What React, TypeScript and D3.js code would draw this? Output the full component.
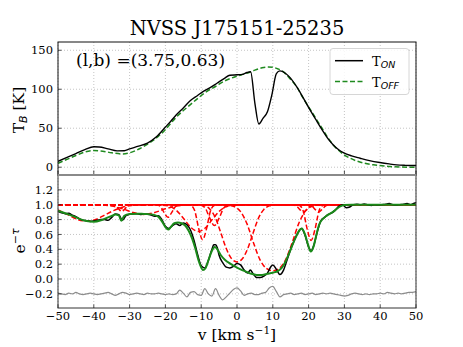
import React from "react";
import * as d3 from "d3";

// ---- data ----
const xTicks = [-50, -40, -30, -20, -10, 0, 10, 20, 30, 40, 50];
const tbTicks = [0, 50, 100, 150];
const tauTicks = [-0.2, 0, 0.2, 0.4, 0.6, 0.8, 1.0, 1.2];

// brightness temperature on / off source [v, K]
const tOn: [number, number][] = [
  [-50, 7.5], [-47, 13.5], [-45, 17.5], [-42.5, 22.5], [-40, 26.2], [-38.5, 26], [-36, 23.5],
  [-33.5, 21], [-31.5, 21.2], [-30, 23.5], [-27.5, 27], [-25, 31], [-22.5, 39], [-20, 51.5],
  [-18.5, 59], [-17, 67], [-15, 76], [-13, 85.5], [-11, 92], [-9.5, 97], [-7.5, 102],
  [-5.5, 108], [-3.5, 114], [-2, 118], [0, 118.5], [1.5, 119], [2.8, 121.5], [3.8, 122.5],
  [5, 82], [6.1, 55.5], [7.3, 63], [8.5, 71], [9.7, 92], [11, 120], [12, 123.5], [13.5, 120.5],
  [14.5, 116.5], [16.7, 103], [18.5, 89], [20.4, 73.5], [22.3, 59], [24.1, 45.7], [25.5, 36],
  [26.9, 28.6], [28.5, 22], [29.7, 18.7], [32, 14.5], [34.4, 11.5], [37, 8.5], [39.9, 6],
  [42.5, 4.2], [44.6, 3], [47, 2.4], [50, 2.1],
];
const tOff: [number, number][] = [
  [-50, 5], [-47, 11], [-45, 15], [-42.5, 19.5], [-40, 21.3], [-37.5, 20.5], [-35, 18.5],
  [-32, 17], [-30, 18.5], [-27.1, 24], [-24.3, 31.6], [-22, 39.5], [-20.1, 47.8], [-17, 64],
  [-13.1, 80], [-10.5, 90], [-8.5, 97], [-6, 103.5], [-3.8, 109.8], [-0.5, 116], [2.7, 120.5],
  [5, 124.5], [7, 127.5], [8.7, 128.5], [10.1, 128], [11.5, 126], [12.9, 122.6], [14.5, 115],
  [16.7, 103], [18.5, 88.5], [20.4, 74.5], [22.3, 60.5], [24.1, 47.5], [25.5, 37], [26.9, 28.6],
  [28.3, 22], [29.7, 16.6], [31.5, 11.8], [33.4, 8], [35.7, 5], [38.1, 3], [40.5, 1.8],
  [42.7, 0.8], [46, 0.2], [50, 0],
];

// observed absorption e^-tau
const absObs: [number, number][] = [
  [-50, 0.91], [-49, 0.89], [-48, 0.88], [-47, 0.885], [-46, 0.86], [-45, 0.84], [-44, 0.81],
  [-43, 0.79], [-42, 0.785], [-41, 0.775], [-40, 0.78], [-39, 0.79], [-38, 0.8], [-37, 0.8],
  [-36, 0.79], [-35, 0.83], [-34, 0.875], [-33, 0.865], [-32, 0.79], [-31, 0.855], [-30, 0.87],
  [-29, 0.875], [-28, 0.88], [-27, 0.87], [-26, 0.875], [-25, 0.87], [-24, 0.86], [-23, 0.845],
  [-22, 0.85], [-21, 0.8], [-20, 0.71], [-19, 0.68], [-18, 0.72], [-17, 0.745], [-16, 0.72],
  [-15, 0.755], [-14, 0.73], [-13, 0.66], [-12, 0.52], [-11, 0.33], [-10, 0.18], [-9, 0.15],
  [-8, 0.25], [-7, 0.4], [-6.5, 0.46], [-6, 0.46], [-5.5, 0.42], [-5, 0.32], [-4, 0.22],
  [-3, 0.16], [-2, 0.15], [-1, 0.17], [0, 0.21], [1, 0.19], [2, 0.12], [3, 0.08], [3.7, 0.12],
  [4.5, 0.07], [5.5, 0.02], [6.5, 0.02], [7.5, 0.04], [8.5, 0.08], [9.5, 0.17], [10, 0.19],
  [11, 0.13], [12, 0.06], [13, 0.12], [14, 0.26], [15, 0.4], [16, 0.52], [17, 0.62], [18, 0.68],
  [19, 0.59], [20, 0.43], [20.7, 0.38], [21.5, 0.46], [22.5, 0.65], [23.5, 0.79], [24.5, 0.83],
  [25.5, 0.87], [26.5, 0.89], [27.5, 0.93], [28.5, 0.98], [29.5, 1.0], [30.5, 0.96], [31.5, 0.97],
  [32.5, 1.0], [33.5, 1.005], [34.5, 1.0], [35.5, 1.01], [36.5, 1.0], [37.5, 0.99], [38.5, 1.0],
  [39.5, 0.995], [40.5, 1.0], [41.5, 1.005], [42.5, 1.015], [43.5, 1.0], [44.5, 0.995],
  [45.5, 1.0], [46.5, 1.005], [47.5, 1.015], [48.5, 1.0], [49.5, 1.02], [50, 1.025],
];

// total fit
const absFit: [number, number][] = [
  [-50, 0.92], [-48, 0.885], [-46, 0.85], [-44, 0.81], [-42, 0.78], [-40, 0.77], [-38, 0.79],
  [-36.5, 0.82], [-35, 0.85], [-34, 0.87], [-33, 0.855], [-32.3, 0.785], [-31.5, 0.85],
  [-30, 0.875], [-28, 0.88], [-26, 0.875], [-24, 0.87], [-23, 0.86], [-22, 0.84], [-21, 0.78],
  [-20, 0.7], [-19.2, 0.665], [-18.5, 0.7], [-17.5, 0.75], [-16.5, 0.76], [-15.5, 0.75],
  [-14.5, 0.72], [-13.5, 0.65], [-12.5, 0.54], [-11.7, 0.42], [-10.8, 0.26], [-10.3, 0.19],
  [-9.5, 0.12], [-8.8, 0.145], [-8, 0.25], [-7.1, 0.37], [-6.2, 0.43], [-5.5, 0.4], [-4.5, 0.32],
  [-3.4, 0.26], [-2, 0.21], [-0.6, 0.17], [1, 0.13], [2.5, 0.1], [4, 0.07], [5.5, 0.055],
  [7, 0.055], [8.5, 0.07], [10, 0.085], [11.5, 0.11], [12.5, 0.15], [13.5, 0.23], [14.5, 0.34],
  [15.5, 0.46], [16.5, 0.57], [17.5, 0.66], [18.1, 0.68], [19, 0.6], [19.8, 0.47], [20.6, 0.37],
  [21.4, 0.44], [22.2, 0.6], [23, 0.74], [24, 0.81], [25, 0.85], [26, 0.88], [27, 0.91],
  [28, 0.95], [29, 0.98], [30, 0.995], [32, 1.0], [50, 1.0],
];

// single gaussian components (e^-tau_i)
const comp1: [number, number][] = [
  [-50, 0.93], [-47, 0.86], [-44.5, 0.8], [-42, 0.78], [-39.5, 0.8], [-37, 0.86], [-34.5, 0.92],
  [-32, 0.967], [-29.5, 0.99], [-27, 0.998], [-24, 1.0], [50, 1.0],
];
const comp2: [number, number][] = [
  [-50, 1.0], [-38, 0.996], [-35, 0.981], [-32, 0.945], [-29, 0.895], [-26, 0.87], [-23, 0.895],
  [-20, 0.945], [-17, 0.981], [-14, 0.996], [-11, 1.0], [50, 1.0],
];
const comp3: [number, number][] = [
  [-50, 1.0], [-35, 1.0], [-34.6, 0.999], [-33.8, 0.984], [-33, 0.94], [-32.2, 0.91],
  [-31.4, 0.94], [-30.6, 0.984], [-29.8, 0.999], [-29, 1.0], [50, 1.0],
];
const comp4: [number, number][] = [
  [-50, 1.0], [-23, 1.0], [-22.3, 0.998], [-21.3, 0.97], [-20.3, 0.89], [-19.3, 0.83],
  [-18.3, 0.89], [-17.3, 0.97], [-16.3, 0.998], [-15.5, 1.0], [50, 1.0],
];
const comp5: [number, number][] = [
  [-50, 1.0], [-24, 1.0], [-22.8, 0.999], [-20.8, 0.995], [-18.8, 0.977], [-16.8, 0.918],
  [-14.8, 0.807], [-12.8, 0.69], [-10.8, 0.64], [-8.8, 0.69], [-6.8, 0.807], [-4.8, 0.918],
  [-2.8, 0.977], [-0.8, 0.995], [1.2, 0.999], [2.5, 1.0], [50, 1.0],
];
const comp6: [number, number][] = [
  [-50, 1.0], [-13.5, 1.0], [-12.9, 0.993], [-11.8, 0.918], [-10.7, 0.68], [-9.6, 0.53],
  [-8.5, 0.68], [-7.4, 0.918], [-6.3, 0.993], [-5.7, 1.0], [50, 1.0],
];
const comp7: [number, number][] = [
  [-50, 1.0], [-10.5, 1.0], [-10.2, 0.996], [-8.9, 0.957], [-7.6, 0.819], [-6.3, 0.72],
  [-5.0, 0.819], [-3.7, 0.957], [-2.4, 0.996], [-2, 1.0], [50, 1.0],
];
const comp8: [number, number][] = [
  [-50, 1.0], [-12, 1.0], [-10.5, 0.997], [-9, 0.984], [-7.5, 0.937], [-6, 0.82], [-4.5, 0.62],
  [-3, 0.41], [-1.5, 0.273], [0, 0.23], [1.5, 0.273], [3, 0.41], [4.5, 0.62], [6, 0.82],
  [7.5, 0.937], [9, 0.984], [10.5, 0.997], [12, 1.0], [50, 1.0],
];
const comp9: [number, number][] = [
  [-50, 1.0], [-4, 1.0], [-2.6, 0.995], [-0.8, 0.976], [1, 0.907], [2.8, 0.742], [4.6, 0.488],
  [6.4, 0.262], [8.2, 0.143], [10, 0.11], [11.8, 0.143], [13.6, 0.262], [15.4, 0.488],
  [17.2, 0.742], [19, 0.907], [20.8, 0.976], [22.6, 0.995], [24, 1.0], [50, 1.0],
];
const comp10: [number, number][] = [
  [-50, 1.0], [14.5, 1.0], [15.5, 0.999], [16.5, 0.986], [17.5, 0.938], [18.5, 0.9],
  [19.5, 0.938], [20.5, 0.986], [21.5, 0.999], [22.5, 1.0], [50, 1.0],
];
const comp11: [number, number][] = [
  [-50, 1.0], [16.8, 1.0], [17.4, 0.993], [18.5, 0.915], [19.6, 0.672], [20.7, 0.52],
  [21.8, 0.672], [22.9, 0.915], [24, 0.993], [24.6, 1.0], [50, 1.0],
];
const comp12: [number, number][] = [
  [-50, 1.0], [19, 1.0], [19.8, 0.999], [20.8, 0.986], [21.8, 0.938], [22.8, 0.9],
  [23.8, 0.938], [24.8, 0.986], [25.8, 0.999], [26.5, 1.0], [50, 1.0],
];
const components = [comp1, comp2, comp3, comp4, comp5, comp6, comp7, comp8, comp9, comp10, comp11, comp12];

// residuals (offset to -0.2), one per km/s from -50 to 50
const resid: number[] = [
  -0.19, -0.2, -0.21, -0.19, -0.2, -0.18, -0.2, -0.21, -0.2, -0.19, -0.2, -0.21, -0.2, -0.19,
  -0.18, -0.2, -0.22, -0.2, -0.18, -0.19, -0.21, -0.2, -0.19, -0.2, -0.21, -0.19, -0.2, -0.2,
  -0.19, -0.2, -0.21, -0.2, -0.21, -0.2, -0.15, -0.19, -0.24, -0.18, -0.17, -0.21, -0.22, -0.13,
  -0.2, -0.23, -0.13, -0.22, -0.28, -0.24, -0.19, -0.14, -0.12, -0.16, -0.22, -0.2, -0.19,
  -0.21, -0.21, -0.19, -0.18, -0.12, -0.1, -0.17, -0.24, -0.21, -0.2, -0.19, -0.21, -0.2, -0.19,
  -0.21, -0.2, -0.19, -0.21, -0.2, -0.19, -0.2, -0.19, -0.2, -0.21, -0.22, -0.23, -0.22, -0.2,
  -0.19, -0.2, -0.21, -0.2, -0.21, -0.2, -0.2, -0.19, -0.2, -0.18, -0.19, -0.2, -0.19, -0.2,
  -0.19, -0.18, -0.18, -0.17,
];
const residV = d3.range(-50, 51, 1);

const serif = "DejaVu Serif";
const sans = "DejaVu Sans";
const minus = (s: string) => s.replace("-", "\u2212");

export default function App() {
  const L = 58, R = 416, T = 42, MID = 175, B = 308;
  const x = d3.scaleLinear().domain([-50, 50]).range([L, R]);
  const yT = d3.scaleLinear().domain([-10, 160.6]).range([MID, T]);
  const yA = d3.scaleLinear().domain([-0.39, 1.4]).range([B, MID]);

  const lineT = d3.line<[number, number]>().x(d => x(d[0])).y(d => yT(d[1])).curve(d3.curveMonotoneX);
  const lineA = d3.line<[number, number]>().x(d => x(d[0])).y(d => yA(d[1])).curve(d3.curveMonotoneX);
  const lineR = d3.line<number>().x((_, i) => x(residV[i])).y(d => yA(d)).curve(d3.curveMonotoneX);

  const grid = { stroke: "#b5b5b5", strokeWidth: 0.8, strokeDasharray: "1,2" };
  const tick = 3.5;

  return (
    <svg width={463} height={347} style={{ position: "absolute", left: 0, top: 0, background: "#fff" }}>
      <defs>
        <clipPath id="cT"><rect x={L} y={T} width={R - L} height={MID - T} /></clipPath>
        <clipPath id="cA"><rect x={L} y={MID} width={R - L} height={B - MID} /></clipPath>
      </defs>

      {/* title */}
      <text x={(L + R) / 2} y={35} textAnchor="middle" fontFamily={serif} fontSize={19.5}>NVSS J175151-25235</text>

      {/* grids */}
      {xTicks.map(t => (
        <g key={"gx" + t}>
          <line x1={x(t)} x2={x(t)} y1={T} y2={MID} {...grid} />
          <line x1={x(t)} x2={x(t)} y1={MID} y2={B} {...grid} />
        </g>
      ))}
      {tbTicks.map(t => <line key={"gt" + t} x1={L} x2={R} y1={yT(t)} y2={yT(t)} {...grid} />)}
      {tauTicks.map(t => <line key={"ga" + t} x1={L} x2={R} y1={yA(t)} y2={yA(t)} {...grid} />)}

      {/* upper panel curves */}
      <g clipPath="url(#cT)" fill="none">
        <path d={lineT(tOff) ?? ""} stroke="#1f8a1f" strokeWidth={1.5} strokeDasharray="5,2.5" />
        <path d={lineT(tOn) ?? ""} stroke="#000" strokeWidth={1.4} />
      </g>

      {/* lower panel curves */}
      <g clipPath="url(#cA)" fill="none">
        {components.map((c, i) => (
          <path key={"c" + i} d={lineA(c) ?? ""} stroke="#ff0000" strokeWidth={1.5} strokeDasharray="5,2.5" />
        ))}
        <path d={lineR(resid) ?? ""} stroke="#8c8c8c" strokeWidth={1.2} />
        <path d={lineA(absObs) ?? ""} stroke="#000" strokeWidth={1.5} />
        <path d={lineA(absFit) ?? ""} stroke="#1a8a1a" strokeWidth={2} />
      </g>

      {/* ticks */}
      {xTicks.map(t => (
        <g key={"tx" + t} stroke="#222" strokeWidth={0.8}>
          <line x1={x(t)} x2={x(t)} y1={MID - 1} y2={MID - 1 - tick} />
          <line x1={x(t)} x2={x(t)} y1={B} y2={B - tick} />
        </g>
      ))}
      {tbTicks.map(t => <line key={"tt" + t} x1={L} x2={L + tick} y1={yT(t)} y2={yT(t)} stroke="#222" strokeWidth={0.8} />)}
      {tauTicks.map(t => <line key={"ta" + t} x1={L} x2={L + tick} y1={yA(t)} y2={yA(t)} stroke="#222" strokeWidth={0.8} />)}

      {/* frames */}
      <rect x={L} y={T} width={R - L} height={MID - T} fill="none" stroke="#111" strokeWidth={1} />
      <rect x={L} y={MID} width={R - L} height={B - MID} fill="none" stroke="#333" strokeWidth={1} />
      <line x1={L} x2={R} y1={MID} y2={MID} stroke="#8a8a8a" strokeWidth={2} />

      {/* tick labels */}
      {tbTicks.map(t => (
        <text key={"lt" + t} x={L - 5} y={yT(t)} dy="0.36em" textAnchor="end" fontFamily={serif} fontSize={11.5}>{t}</text>
      ))}
      {tauTicks.map(t => (
        <text key={"la" + t} x={L - 5} y={yA(t)} dy="0.36em" textAnchor="end" fontFamily={serif} fontSize={11.5}>{minus(d3.format(".1f")(t))}</text>
      ))}
      {xTicks.map(t => (
        <text key={"lx" + t} x={x(t)} y={320} textAnchor="middle" fontFamily={serif} fontSize={11.5}>{minus(String(t))}</text>
      ))}

      {/* axis labels */}
      <text transform={`translate(24,110) rotate(-90)`} textAnchor="middle" fontFamily={serif} fontSize={15.5}>
        T<tspan fontFamily={sans} fontStyle="italic" fontSize={11} dy={3}>B</tspan><tspan dy={-3}> [K]</tspan>
      </text>
      <text transform={`translate(25,241) rotate(-90)`} textAnchor="middle" fontFamily={serif} fontSize={15.5}>
        e<tspan fontFamily={serif} fontSize={11} dy={-6}>{"\u2212"}</tspan><tspan fontFamily={sans} fontStyle="italic" fontSize={11}>τ</tspan>
      </text>
      <text x={(L + R) / 2} y={339.5} textAnchor="middle" fontFamily={serif} fontSize={15.5}>
        v [km s<tspan fontSize={10.5} dy={-6}>{"\u2212"}1</tspan><tspan dy={6}>]</tspan>
      </text>

      {/* annotation */}
      <text x={76} y={66} fontFamily={serif} fontSize={17}>(l,b) =(3.75,0.63)</text>

      {/* legend */}
      <rect x={330} y={48.5} width={79} height={46} rx={3} fill="#fff" fillOpacity={0.85} stroke="#cccccc" strokeWidth={0.8} />
      <line x1={335} x2={363} y1={60.7} y2={60.7} stroke="#000" strokeWidth={1.5} />
      <line x1={335} x2={363} y1={81.5} y2={81.5} stroke="#1f8a1f" strokeWidth={1.5} strokeDasharray="5,2.5" />
      <text x={372} y={66} fontFamily={serif} fontSize={13}>
        T<tspan fontFamily={sans} fontStyle="italic" fontSize={9.5} dy={2}>ON</tspan>
      </text>
      <text x={372} y={86.5} fontFamily={serif} fontSize={13}>
        T<tspan fontFamily={sans} fontStyle="italic" fontSize={9.5} dy={2}>OFF</tspan>
      </text>
    </svg>
  );
}
